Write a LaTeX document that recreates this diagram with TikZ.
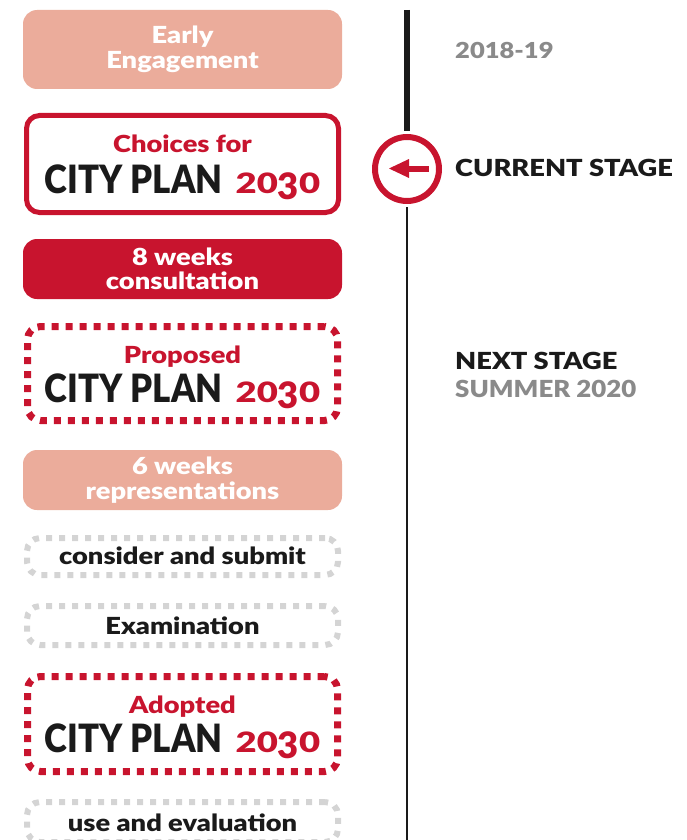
\documentclass[tikz,border=0pt]{standalone}
\usepackage{fontspec}
\setmainfont{Lato}[BoldFont={Lato Black}]
\newfontfamily\widefont{Lato Black}[FakeStretch=1.16]
\newfontfamily\midfont{Lato Black}[FakeStretch=1.1]
\definecolor{cred}{HTML}{C8142E}
\definecolor{salmon}{HTML}{EBAC9B}
\definecolor{dgray}{HTML}{D4D4D4}
\definecolor{tgray}{HTML}{8A8A8A}
\definecolor{tblack}{HTML}{1A1A1A}
\tikzset{
  fillbox/.style={rounded corners=14pt, minimum width=319pt, inner sep=0pt},
  linebox/.style={draw=cred, line width=5pt, rounded corners=13pt, minimum width=312pt, inner sep=0pt},
  redbox/.style={draw=cred, line width=7pt, dash pattern=on 7pt off 7pt, rounded corners=13pt, minimum width=310pt, inner sep=0pt},
  graybox/.style={draw=dgray, line width=6pt, dash pattern=on 6pt off 7pt, rounded corners=13pt, minimum width=311pt, inner sep=0pt},
  wtxt/.style={text=white, font=\widefont\fontsize{23.5}{24.5}\selectfont, align=center, inner sep=0pt},
  btxt/.style={text=tblack, font=\widefont\fontsize{23.5}{24}\selectfont, anchor=base, inner sep=0pt},
  rtxt/.style={text=cred, font=\widefont\fontsize{23.5}{24}\selectfont, anchor=base, inner sep=0pt},
  big/.style={anchor=base, inner sep=0pt},
  side/.style={font=\widefont\fontsize{23.5}{25}\selectfont, anchor=base west, inner sep=0pt},
}
\newcommand{\thirty}{\scalebox{1.3}[1]{\fontsize{28}{28}\selectfont 20\raisebox{-6pt}{\scalebox{1}[1.3]{3}}0}}
\newcommand{\cityplan}{{\fontsize{39}{40}\selectfont\bfseries\color{tblack}\scalebox{0.89}[1]{CITY PLAN}\hspace{13pt}\color{cred}\thirty}}
\begin{document}
\begin{tikzpicture}[x=1pt,y=-1pt]
\useasboundingbox (0,0) rectangle (686,840);
% timeline
\coordinate (ltop) at (407,10);
\coordinate (lbot) at (407,842);
\node[draw=cred, line width=6pt, circle, minimum size=64pt, inner sep=0pt] (cur) at (407,169) {};
\draw[line width=6pt, tblack] (ltop) -- ([yshift=3pt]cur.north);
\draw[line width=2.5pt, tblack] ([yshift=-3pt]cur.south) -- (lbot);
\fill[cred] (389,168.5) -- (409,159) -- (409,178) -- cycle;
\fill[cred] (405,165.5) rectangle (429,171.5);
% boxes
\node[fillbox, fill=salmon, minimum height=79pt] (b1) at (182.5,49.5) {};
\node[wtxt] (t1) at (b1.center) {Early\\Engagement};
\node[linebox, minimum height=97pt] (b2) at (182.5,164) {};
\node[rtxt] (t2a) at (182.5,153) {Choices for};
\node[big] (t2b) at (182.5,193) {\cityplan};
\node[fillbox, fill=cred, minimum height=60pt] (b3) at (182.5,269) {};
\node[wtxt] (t3) at (b3.center) {8 weeks\\consultation};
\node[redbox, minimum height=94pt] (b4) at (182.5,373.5) {};
\node[rtxt] (t4a) at (182.5,363) {Proposed};
\node[big] (t4b) at (182.5,402) {\cityplan};
\node[fillbox, fill=salmon, minimum height=60pt] (b5) at (182.5,480) {};
\node[wtxt] (t5) at (b5.center) {6 weeks\\representations};
\node[graybox, minimum height=37pt] (b6) at (182.5,556.5) {};
\node[btxt] (t6) at (182.5,564) {consider and submit};
\node[graybox, minimum height=39pt] (b7) at (182.5,625.5) {};
\node[btxt] (t7) at (182.5,634) {Examination};
\node[redbox, minimum height=95pt] (b8) at (182.5,724) {};
\node[rtxt] (t8a) at (182.5,713) {Adopted};
\node[big] (t8b) at (182.5,752) {\cityplan};
\node[graybox, minimum height=40pt] (b9) at (182.5,822) {};
\node[btxt] (t9) at (182.5,831) {use and evaluation};
% side labels
\node[side, text=tgray, font=\widefont\fontsize{22}{24}\selectfont] (s1) at (455,59) {2018-19};
\node[side, text=tblack] (s2) at (455,176) {CURRENT STAGE};
\node[side, text=tblack] (s3) at (455,369) {NEXT STAGE};
\node[side, text=tgray, font=\midfont\fontsize{23.5}{25}\selectfont] (s4) at (455,397) {SUMMER 2020};
\end{tikzpicture}
\end{document}
